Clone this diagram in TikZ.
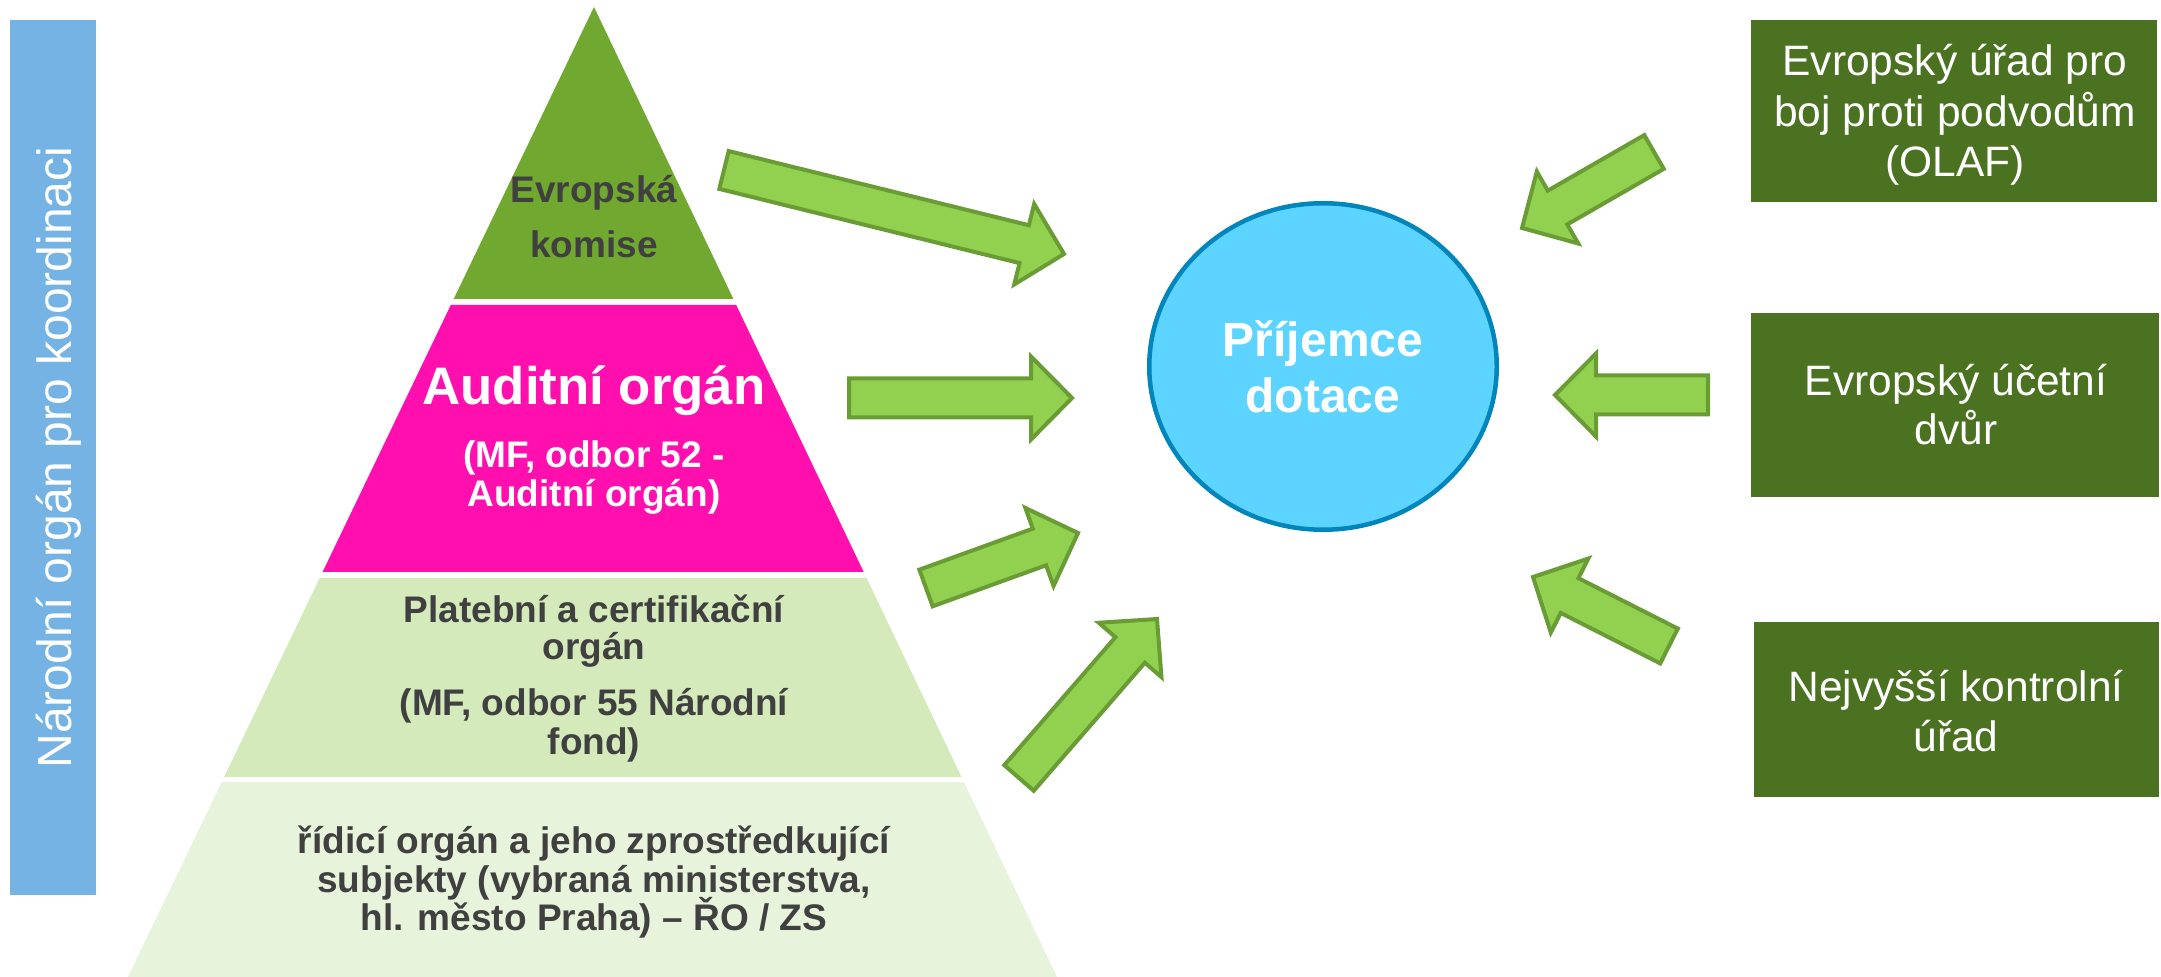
\documentclass[tikz,border=0pt]{standalone}
\usepackage{fontspec}
\setmainfont{Liberation Sans}
\usetikzlibrary{calc,shapes.geometric}
\definecolor{barblue}{HTML}{74B3E3}
\definecolor{topgreen}{HTML}{70A830}
\definecolor{magentaL}{HTML}{FF0FAD}
\definecolor{paleA}{HTML}{D4EABA}
\definecolor{paleB}{HTML}{E7F3DA}
\definecolor{boxgreen}{HTML}{4A7220}
\definecolor{arrowfill}{HTML}{92D050}
\definecolor{arrowdraw}{HTML}{6A9C35}
\definecolor{circfill}{HTML}{5DD3FF}
\definecolor{circdraw}{HTML}{0086BB}
\definecolor{darktext}{HTML}{404040}
\tikzset{
  ptext/.style={anchor=base, inner sep=0pt, text=darktext, font=\bfseries\fontsize{18.5pt}{22pt}\selectfont},
  wptext/.style={ptext, text=white},
  bigtext/.style={anchor=base, inner sep=0pt, text=white, font=\bfseries\fontsize{26.4pt}{30pt}\selectfont},
  circtext/.style={anchor=base, inner sep=0pt, text=white, font=\bfseries\fontsize{24pt}{28pt}\selectfont},
  boxtext/.style={anchor=base, inner sep=0pt, text=white, font=\fontsize{21.25pt}{25pt}\selectfont},
  gbox/.style={fill=boxgreen, draw=none, inner sep=0pt},
  barrow/.style={fill=arrowfill, draw=arrowdraw, line width=2pt, line join=miter},
}
\newcommand\blockarrow[2]{%
  \coordinate (#1-base) at ($(#2)!20.5pt!(#1)$);
  \draw[barrow] ($(#1)!9.75pt!90:(#2)$) -- ($(#1-base)!9.75pt!90:(#2)$) -- ($(#1-base)!20.75pt!90:(#2)$) -- (#2) -- ($(#1-base)!20.75pt!-90:(#2)$) -- ($(#1-base)!9.75pt!-90:(#2)$) -- ($(#1)!9.75pt!-90:(#2)$) -- cycle;
}
\begin{document}
\begin{tikzpicture}[x=0.5pt,y=-0.5pt]
\useasboundingbox (0,0) rectangle (2161,977);
% left bar
\node[fill=barblue, inner sep=0pt, minimum width=43pt, minimum height=437.5pt] (bar) at (53,457.5) {};
\node[rotate=90, anchor=base, inner sep=0pt, text=white, font=\fontsize{24pt}{28pt}\selectfont] (bartext) at (71,457.5) {Národní orgán pro koordinaci};
% pyramid layers
\fill[topgreen] (594,7) -- (453.7,299) -- (733.4,299) -- cycle;
\fill[magentaL] (450.8,305) -- (736.2,305) -- (863.7,572) -- (322.6,572) -- cycle;
\fill[paleA] (319.7,578) -- (866.6,578) -- (961.5,777) -- (224.1,777) -- cycle;
\fill[paleB] (221.7,782) -- (963.9,782) -- (1057,977) -- (128,977) -- cycle;
% pyramid texts
\node[ptext] (ek1) at (594,203) {Evropská};
\node[ptext] (ek2) at (594,258) {komise};
\node[bigtext] (ao1) at (594,405) {Auditní orgán};
\node[wptext] (ao2) at (594,468) {(MF, odbor 52 -};
\node[wptext] (ao3) at (594,507) {Auditní orgán)};
\node[ptext] (pc1) at (594,623) {Platební a certifikační};
\node[ptext] (pc2) at (594,660) {orgán};
\node[ptext] (pc3) at (594,715) {(MF, odbor 55 Národní};
\node[ptext] (pc4) at (594,754) {fond)};
\node[ptext] (ro1) at (594,853) {řídicí orgán a jeho zprostředkující};
\node[ptext] (ro2) at (594,892) {subjekty (vybraná ministerstva,};
\node[ptext] (ro3) at (594,930) {hl. město Praha) – ŘO / ZS};
% recipient
\node[ellipse, fill=circfill, draw=circdraw, line width=2.25pt, inner sep=0pt, minimum width=173.75pt, minimum height=163.25pt] (rec) at (1323,366.5) {};
\node[circtext] (rec1) at (1323,357) {Příjemce};
\node[circtext] (rec2) at (1323,413) {dotace};
% right boxes
\node[gbox, minimum width=203pt, minimum height=91pt] (olaf) at (1954,111) {};
\node[boxtext] (olaf1) at (1955,76) {Evropský úřad pro};
\node[boxtext] (olaf2) at (1955,127) {boj proti podvodům};
\node[boxtext] (olaf3) at (1955,177) {(OLAF)};
\node[gbox, minimum width=204pt, minimum height=92pt] (eud) at (1955,405) {};
\node[boxtext] (eud1) at (1956,396) {Evropský účetní};
\node[boxtext] (eud2) at (1956,445) {dvůr};
\node[gbox, minimum width=202.5pt, minimum height=87.5pt] (nku) at (1956.5,709.5) {};
\node[boxtext] (nku1) at (1956,701) {Nejvyšší kontrolní};
\node[boxtext] (nku2) at (1956,751) {úřad};
% arrow anchor coordinates
\coordinate (a1t) at (724,170);
\coordinate (a1h) at (1064,254);
\coordinate (a2t) at (849,398);
\coordinate (a2h) at (1072,398);
\coordinate (a3t) at (926,588);
\coordinate (a3h) at (1078,533);
\coordinate (a4t) at (1019,778);
\coordinate (a4h) at (1157,619);
\coordinate (r1t) at (1654,152);
\coordinate (r1h) at (1522,228);
\coordinate (r2t) at (1708,395);
\coordinate (r2h) at (1555,395);
\coordinate (r3t) at (1669,646);
\coordinate (r3h) at (1533,577);
\blockarrow{a1t}{a1h}
\blockarrow{a2t}{a2h}
\blockarrow{a3t}{a3h}
\blockarrow{a4t}{a4h}
\blockarrow{r1t}{r1h}
\blockarrow{r2t}{r2h}
\blockarrow{r3t}{r3h}
\end{tikzpicture}
\end{document}
